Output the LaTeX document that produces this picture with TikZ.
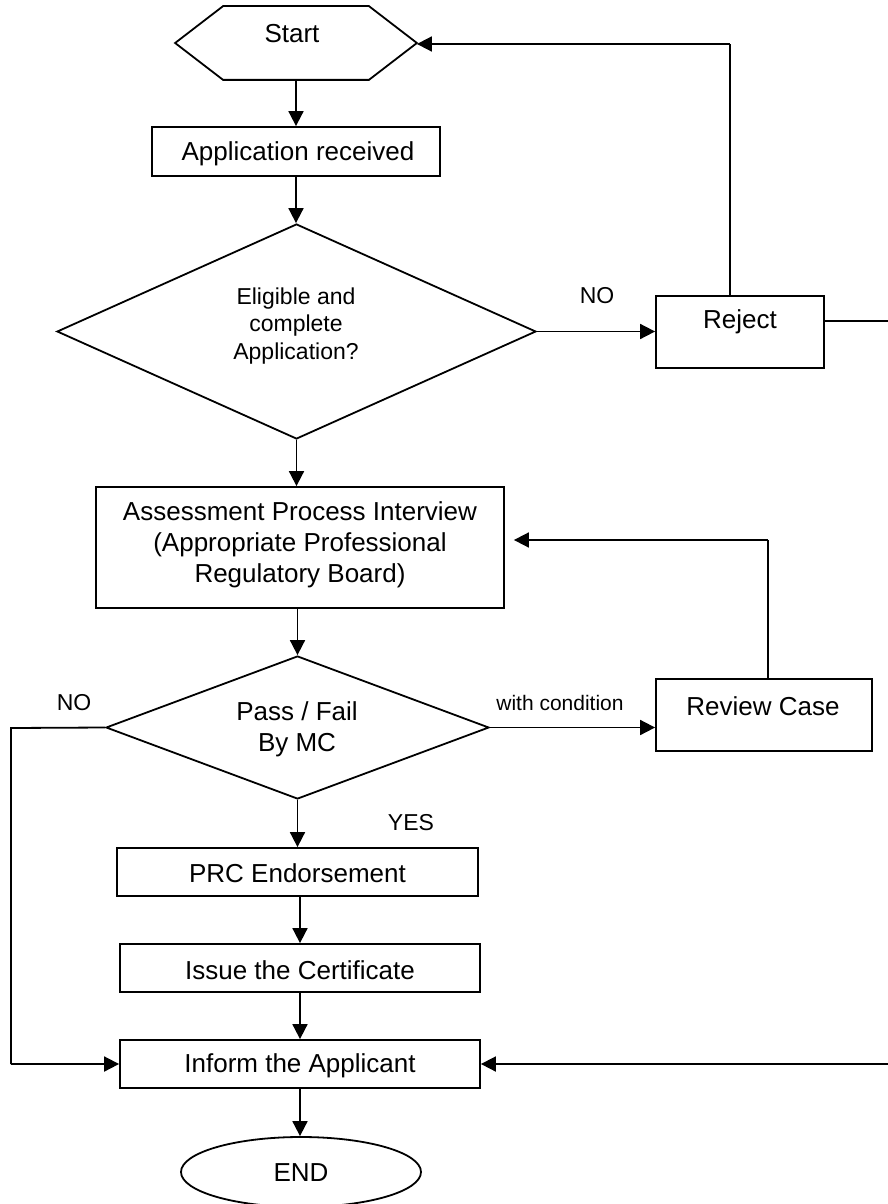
\documentclass[tikz,border=0pt]{standalone}
\usepackage{fontspec}
\setmainfont{Liberation Sans}
\usetikzlibrary{shapes.geometric,arrows.meta}
\begin{document}
\begin{tikzpicture}[x=1pt,y=-1pt,
  line width=1.8pt,
  shapebox/.style={draw, rectangle, inner sep=0pt, line width=1.8pt},
  ghost/.style={rectangle, inner sep=0pt},
  dia/.style={draw, diamond, inner sep=0pt, line width=1.8pt},
  txt/.style={font=\fontsize{26}{31}\selectfont, align=center, inner sep=0pt},
  smalltxt/.style={font=\fontsize{23}{27.5}\selectfont, align=center, inner sep=0pt},
  lbl/.style={font=\fontsize{23}{27}\selectfont, inner sep=0pt},
  tinylbl/.style={font=\fontsize{21}{25}\selectfont, inner sep=0pt},
  arr/.style={-{Triangle[length=15pt,width=15pt]}, line width=1.8pt},
  ln/.style={line width=1.8pt}]
\useasboundingbox (0,0) rectangle (887,1204);

% shapes
\node[ghost, minimum width=240pt, minimum height=72pt] (start) at (296,43) {};
\draw[ln] (start.west) -- ([xshift=48pt]start.north west) -- ([xshift=-48pt]start.north east)
  -- (start.east) -- ([xshift=-48pt]start.south east) -- ([xshift=48pt]start.south west) -- cycle;
\node[txt] (tstart) at (292,34) {Start};

\node[shapebox, minimum width=288pt, minimum height=49pt] (app) at (296,151.5) {};
\node[txt] (tapp) at (298,154) {Application received};

\node[dia, minimum width=479pt, minimum height=215pt, aspect=2.23] (d1) at (296.5,331.5) {};
\node[smalltxt] (td1) at (296,326) {Eligible and\\complete\\Application?};

\node[shapebox, minimum width=168pt, minimum height=72pt] (reject) at (740,332) {};
\node[txt] (treject) at (740,322) {Reject};

\node[shapebox, minimum width=408pt, minimum height=121pt] (assess) at (300,547.5) {};
\node[txt] (tassess) at (300,545) {Assessment Process Interview\\(Appropriate Professional\\Regulatory Board)};

\node[dia, minimum width=383pt, minimum height=143pt, aspect=2.68] (d2) at (297.5,727.5) {};
\node[txt] (td2) at (297,729) {Pass / Fail\\By MC};

\node[shapebox, minimum width=216pt, minimum height=72pt] (review) at (764,715) {};
\node[txt] (treview) at (763,706) {Review Case};

\node[shapebox, minimum width=361pt, minimum height=48pt] (prc) at (297.5,872) {};
\node[txt] (tprc) at (297.5,873) {PRC Endorsement};

\node[shapebox, minimum width=360pt, minimum height=48pt] (issue) at (300,968) {};
\node[txt] (tissue) at (300,970) {Issue the Certificate};

\node[shapebox, minimum width=360pt, minimum height=48pt] (inform) at (300,1064) {};
\node[txt] (tinform) at (300,1066) {Inform the Applicant};

\node[draw, ellipse, inner sep=0pt, line width=1.8pt, minimum width=240pt, minimum height=70pt] (endn) at (301,1172) {};
\node[txt] (tend) at (301,1173) {END};

% labels
\node[lbl] (lno1) at (597,296) {NO};
\node[lbl] (lno2) at (74,703) {NO};
\node[tinylbl] (lcond) at (560,703) {with condition};
\node[lbl] (lyes) at (411,823) {YES};

% helper coordinates
\coordinate (rjtop) at (730,44);
\coordinate (rjright) at (897,321);
\coordinate (rjdown) at (897,1064);
\coordinate (nol) at (11,728);
\coordinate (nodown) at (11,1064);
\coordinate (rvup) at (768,540);

% connectors
\draw[arr] (start.south) -- (app.north);
\draw[arr] (app.south) -- (app.south |- d1.north);
\draw[arr] (d1.east) -- (d1.east -| reject.west);
\draw[ln] (rjtop |- reject.north) -- (rjtop);
\draw[arr] (rjtop) -- (start.east |- rjtop);
\draw[ln] (reject.east |- rjright) -- (rjright) -- (rjdown);
\draw[arr] (rjdown) -- (inform.east |- rjdown);
\draw[arr] (d1.south) -- (d1.south |- assess.north);
\draw[arr] (d2.north |- assess.south) -- (d2.north);
\draw[arr] (d2.east) -- (d2.east -| review.west);
\draw[ln] (rvup |- review.north) -- (rvup);
\draw[arr, shorten >=9pt] (rvup) -- (assess.east |- rvup);
\draw[ln] (d2.west) -- (nol) -- (nodown);
\draw[arr] (nodown) -- (inform.west |- nodown);
\draw[arr] (d2.south) -- (d2.south |- prc.north);
\draw[arr] (issue.north |- prc.south) -- (issue.north);
\draw[arr] (issue.south) -- (inform.north);
\draw[arr] (inform.south) -- (inform.south |- endn.north);
\end{tikzpicture}
\end{document}
